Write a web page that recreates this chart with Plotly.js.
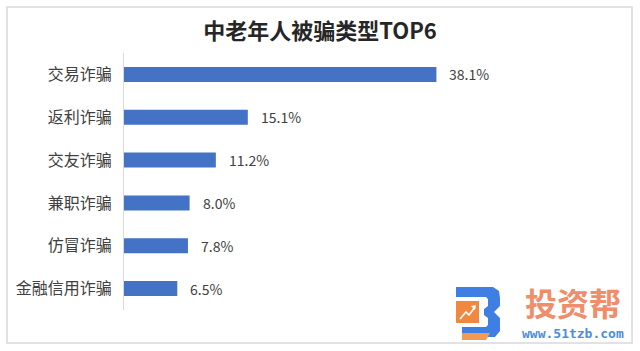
<!DOCTYPE html>
<html>
<head>
<meta charset="utf-8">
<script src="https://cdn.plot.ly/plotly-3.0.1.min.js"></script>
<style>html,body{margin:0;padding:0;background:#fff;}#chart{width:640px;height:351px;}</style>
</head>
<body>
<div id="chart"></div>
<script>
const categories = ['交易诈骗', '返利诈骗', '交友诈骗', '兼职诈骗', '仿冒诈骗', '金融信用诈骗'];
const values = [38.1, 15.1, 11.2, 8.0, 7.8, 6.5];
const valueLabels = ['38.1%', '15.1%', '11.2%', '8.0%', '7.8%', '6.5%'];
const chartTitle = '中老年人被骗类型TOP6';
const brandName = '投资帮';
const brandUrl = 'www.51tzb.com';

const W = 640, H = 351;
const M = {l: 124, r: 24, t: 53, b: 41};
const PW = W - M.l - M.r, PH = H - M.t - M.b;
const px = x => (x - M.l) / PW;
const py = y => (H - M.b - y) / PH;
const CJK = '"Noto Sans CJK SC", "Noto Sans", sans-serif';

function rect(x0, y0, x1, y1, color) {
  return {type: 'rect', xref: 'paper', yref: 'paper', x0: px(x0), x1: px(x1), y0: py(y1), y1: py(y0),
          fillcolor: color, line: {width: 0}, layer: 'above'};
}
function path(pts, color, closed, lineColor, lw) {
  let d = pts.map((p, i) => (i ? 'L' : 'M') + px(p[0]) + ',' + py(p[1])).join(' ') + (closed ? ' Z' : '');
  return {type: 'path', xref: 'paper', yref: 'paper', path: d,
          fillcolor: closed ? color : 'rgba(0,0,0,0)',
          line: {width: lw || 0, color: lineColor || color}, layer: 'above'};
}

const shapes = [
  // outer frame
  {type: 'rect', xref: 'paper', yref: 'paper', x0: px(7), x1: px(632), y0: py(343), y1: py(7),
   line: {color: '#d9d9d9', width: 1.5}, fillcolor: 'rgba(0,0,0,0)', layer: 'below'},
  // logo: blue "B"
  path([[456,287],[493,287],[499,291],[500,298],[500,306],[494,312],[500,318],[500,331],[495,337],[462,337],[462,327],[486,327],[488,325],[488,318],[484,315],[484,309],[488,306],[488,299],[486,297],[456,297]], '#3f7fe3', true),
  // orange square
  rect(456, 301, 479, 323, '#f0883f'),
  // bottom orange stripe
  path([[462,333],[490,333],[486,340],[462,340]], '#f29a52', true),
  // white arrow
  path([[460,319],[466,312],[469,315],[475,307]], '#fff', false, '#ffffff', 1.6),
  path([[471,306],[476,305],[475,310]], '#ffffff', true)
];

const annotations = values.map((v, i) => ({
  x: v, y: categories[i], xref: 'x', yref: 'y', text: valueLabels[i], showarrow: false,
  xanchor: 'left', yanchor: 'middle', xshift: 11,
  font: {family: CJK, size: 14, color: '#404040'}
}));
annotations.push({
  xref: 'paper', yref: 'paper', x: px(573), y: py(302), text: '<b>' + brandName + '</b>', showarrow: false,
  xanchor: 'center', yanchor: 'middle', font: {family: CJK, size: 32, color: '#f08d6a'}
});
annotations.push({
  xref: 'paper', yref: 'paper', x: px(573), y: py(333), text: '<b>' + brandUrl + '</b>', showarrow: false,
  xanchor: 'center', yanchor: 'middle', font: {family: '"DejaVu Sans Mono", monospace', size: 13, color: '#4a8fdc'}
});

const data = [{
  type: 'bar', orientation: 'h', x: values, y: categories,
  marker: {color: '#4472c4'}, hoverinfo: 'none'
}];

const layout = {
  width: W, height: H,
  margin: M,
  paper_bgcolor: '#ffffff', plot_bgcolor: '#ffffff',
  showlegend: false,
  bargap: 0.65,
  title: {text: '<b>' + chartTitle + '</b>', x: 0.5, xanchor: 'center', y: 1 - 31 / H, yanchor: 'middle',
          font: {family: CJK, size: 22, color: '#262626'}},
  xaxis: {range: [0, PW / 8.2], visible: false, fixedrange: true},
  yaxis: {type: 'category', autorange: 'reversed', showline: true, linecolor: '#d9d9d9', linewidth: 1,
          showgrid: false, zeroline: false, ticks: 'outside', ticklen: 8, tickcolor: 'rgba(0,0,0,0)',
          tickfont: {family: CJK, size: 16, color: '#404040'}, fixedrange: true},
  shapes: shapes,
  annotations: annotations
};

Plotly.newPlot('chart', data, layout, {displayModeBar: false, staticPlot: true});
</script>
</body>
</html>
